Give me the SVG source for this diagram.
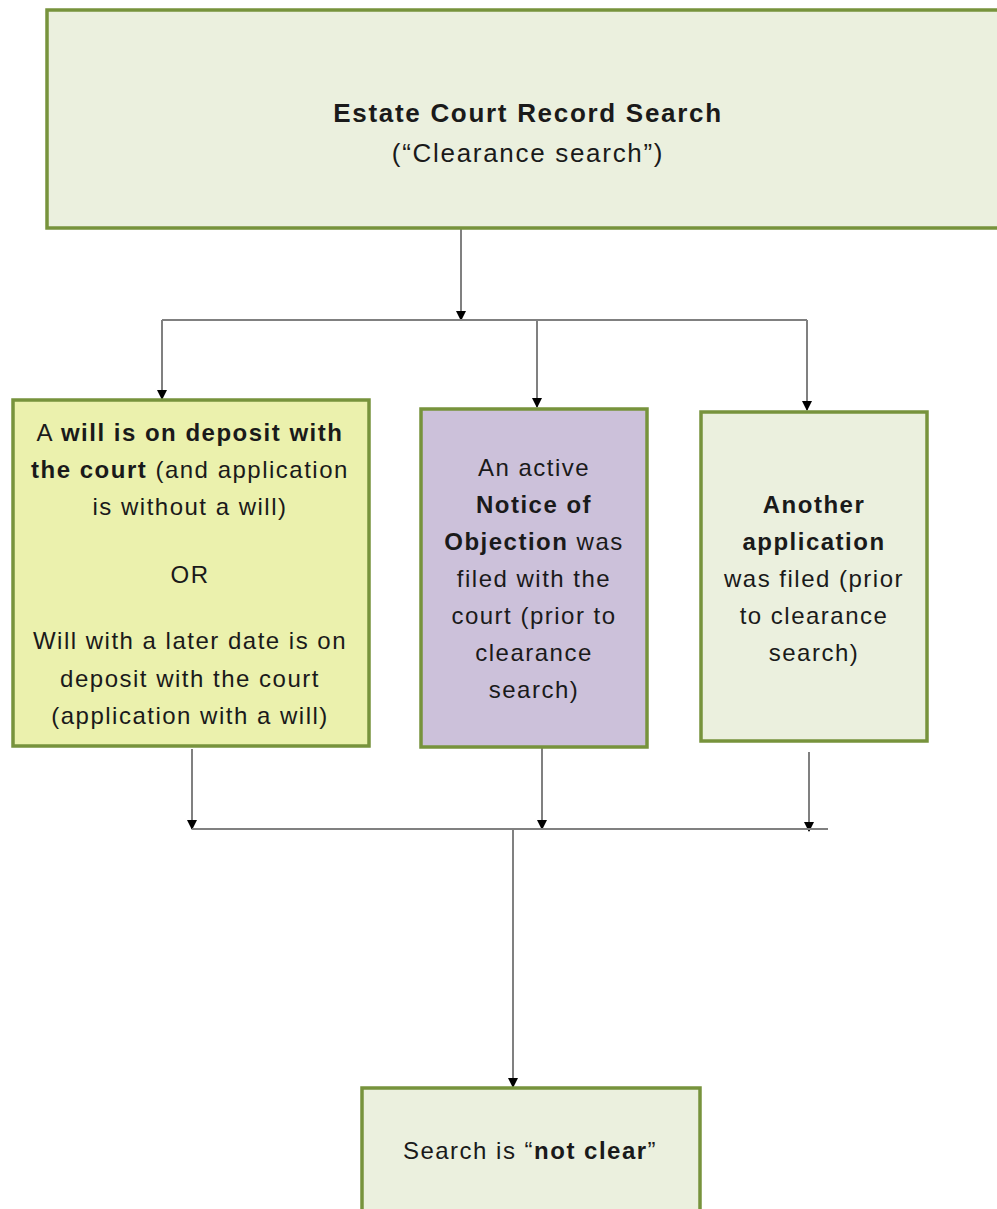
<svg xmlns="http://www.w3.org/2000/svg" width="997" height="1209" viewBox="0 0 997 1209">
  <defs>
    <marker id="arrow" viewBox="0 0 10 10" refX="9" refY="5" markerWidth="10" markerHeight="10" markerUnits="userSpaceOnUse" orient="auto">
      <path d="M0,0 L10,5 L0,10 Z" fill="#000"/>
    </marker>
  </defs>
  <style>
    .box { stroke: #77933C; stroke-width: 3.5; }
    .shade { fill: none; stroke: #C3D69B; stroke-width: 2; }
    .conn { fill: none; stroke: #808080; stroke-width: 2; }
    .lbl { font-family: "Liberation Sans", Arial, sans-serif; font-size: 24px; letter-spacing: 1.5px; fill: #1a1a1a; text-anchor: middle; }
    .title { font-family: "Liberation Sans", Arial, sans-serif; font-size: 26px; letter-spacing: 1.7px; fill: #1a1a1a; text-anchor: middle; }
    .b { font-weight: bold; }
  </style>
  <rect width="997" height="1209" fill="#ffffff"/>

  <!-- connectors -->
  <g id="connectors">
    <path class="conn" d="M461,229 V320" marker-end="url(#arrow)"/>
    <path class="conn" d="M162,320 H807"/>
    <path class="conn" d="M162,320 V399" marker-end="url(#arrow)"/>
    <path class="conn" d="M537,320 V407" marker-end="url(#arrow)"/>
    <path class="conn" d="M807,320 V410" marker-end="url(#arrow)"/>
    <path class="conn" d="M192,749 V829" marker-end="url(#arrow)"/>
    <path class="conn" d="M542,741 V829" marker-end="url(#arrow)"/>
    <path class="conn" d="M809,752 V831" marker-end="url(#arrow)"/>
    <path class="conn" d="M192,829 H828"/>
    <path class="conn" d="M513,829 V1087" marker-end="url(#arrow)"/>
  </g>

  <!-- top: record search -->
  <g id="search">
    <rect class="box" x="47" y="10" width="960" height="218" fill="#EBF0DE"/>
    <text class="title b" x="528" y="122">Estate Court Record Search</text>
    <text class="title" x="528" y="162">(“Clearance search”)</text>
  </g>

  <!-- will on deposit -->
  <g id="will">
    <rect class="box" x="13" y="400" width="356" height="346" fill="#EBF1AD"/>
    <text class="lbl" x="190" y="441">A <tspan class="b">will is on deposit with</tspan></text>
    <text class="lbl" x="190" y="478"><tspan class="b">the court</tspan> (and application</text>
    <text class="lbl" x="190" y="515">is without a will)</text>
    <text class="lbl" x="190" y="583">OR</text>
    <text class="lbl" x="190" y="649">Will with a later date is on</text>
    <text class="lbl" x="190" y="687">deposit with the court</text>
    <text class="lbl" x="190" y="724">(application with a will)</text>
  </g>

  <!-- notice of objection -->
  <g id="objection">
    <rect class="box" x="421" y="409" width="226" height="338" fill="#CCC1DA"/>
    <text class="lbl" x="534" y="476">An active</text>
    <text class="lbl b" x="534" y="513">Notice of</text>
    <text class="lbl" x="534" y="550"><tspan class="b">Objection</tspan> was</text>
    <text class="lbl" x="534" y="587">filed with the</text>
    <text class="lbl" x="534" y="624">court (prior to</text>
    <text class="lbl" x="534" y="661">clearance</text>
    <text class="lbl" x="534" y="698">search)</text>
  </g>

  <!-- another application -->
  <g id="another">
    <rect class="box" x="701" y="412" width="226" height="329" fill="#EBF0DE"/>
    <text class="lbl b" x="814" y="513">Another</text>
    <text class="lbl b" x="814" y="550">application</text>
    <text class="lbl" x="814" y="587">was filed (prior</text>
    <text class="lbl" x="814" y="624">to clearance</text>
    <text class="lbl" x="814" y="661">search)</text>
  </g>

  <!-- result -->
  <g id="result">
    <rect class="box" x="362" y="1088" width="338" height="140" fill="#EBF0DE"/>
    <text class="lbl" x="530" y="1159">Search is “<tspan class="b">not clear</tspan>”</text>
  </g>
</svg>
